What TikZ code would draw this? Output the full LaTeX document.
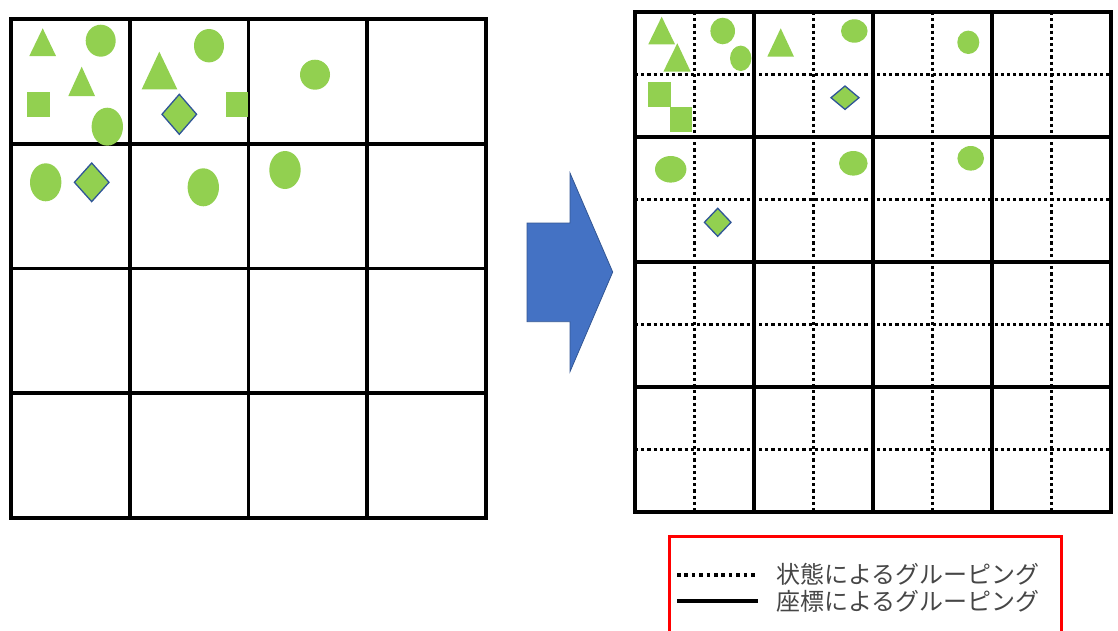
\documentclass[tikz,border=0pt]{standalone}
\usepackage{fontspec}
\newfontfamily\jpfont{Noto Sans CJK JP}
\usepackage{tikz}
\usepackage{xcolor}
\definecolor{leaf}{RGB}{146,208,80}
\definecolor{gemedge}{RGB}{47,85,151}
\definecolor{arrowblue}{RGB}{68,114,196}
\definecolor{textgray}{RGB}{70,70,70}

\begin{document}
\begin{tikzpicture}[x=1pt,y=-1pt,
  cellline/.style={black, line width=3.6pt, line cap=rect},
  dotline/.style={black, line width=3.4pt, dash pattern=on 3.2pt off 3pt},
  item/.style={fill=leaf},
  gem/.style={fill=leaf, draw=gemedge, line width=1.3pt},
  legendtext/.style={anchor=west, inner sep=0pt, text=textgray,
    font=\jpfont\fontsize{24}{24}\selectfont}]
  \clip (0,0) rectangle (1118,630);

  % Left grid: 4x4 cells
  \foreach \x in {11,129.75,248.5,367.25,486}
    \draw[cellline] (\x,19) -- (\x,518);
  \foreach \y in {19,143.75,268.5,393.25,518}
    \draw[cellline] (11,\y) -- (486,\y);

  % Right grid: dotted halves under solid cells
  \foreach \x in {694.5,813.5,932.5,1051.5}
    \draw[dotline] (\x,12) -- (\x,512);
  \foreach \y in {74.5,199.5,324.5,449.5}
    \draw[dotline] (635,\y) -- (1111,\y);
  \foreach \x in {635,754,873,992,1111}
    \draw[cellline] (\x,12) -- (\x,512);
  \foreach \y in {12,137,262,387,512}
    \draw[cellline] (635,\y) -- (1111,\y);

  % Left grid: items
  \fill[item] (42.7,28.3) -- (56,56) -- (29.3,56) -- cycle;
  \fill[item] (100.7,40.7) ellipse (15pt and 16pt);
  \fill[item] (81.7,66.7) -- (95,96) -- (68.3,96) -- cycle;
  \fill[item] (26.7,91.7) rectangle (50,116.7);
  \fill[item] (107.3,126.7) ellipse (15.7pt and 19pt);
  \fill[item] (159.3,51.7) -- (177.3,89.3) -- (141.7,89.3) -- cycle;
  \fill[item] (209,45.7) ellipse (15pt and 16.7pt);
  \filldraw[gem] (179.3,94.3) -- ++(17.3,20) -- ++(-17.3,20) -- ++(-17.3,-20) -- cycle;
  \fill[item] (225.7,91.7) rectangle (248.3,116.7);
  \fill[item] (315,74.7) circle (15pt);
  \fill[item] (45.7,182.3) ellipse (15.7pt and 19pt);
  \filldraw[gem] (91.7,163) -- ++(17.3,19.3) -- ++(-17.3,19.3) -- ++(-17.3,-19.3) -- cycle;
  \fill[item] (203.3,187.3) ellipse (15.7pt and 19pt);
  \fill[item] (285,170) ellipse (15.7pt and 19pt);

  % Right grid: items
  \fill[item] (661.7,16.7) -- (675,44.3) -- (648.3,44.3) -- cycle;
  \fill[item] (677.3,43.3) -- (690.7,71.7) -- (663.3,71.7) -- cycle;
  \fill[item] (722.7,31) ellipse (12.3pt and 13.3pt);
  \fill[item] (740.7,58.3) ellipse (10.7pt and 12.7pt);
  \fill[item] (780.7,28.3) -- (794,56.7) -- (767.3,56.7) -- cycle;
  \fill[item] (854.3,31) ellipse (13.3pt and 11.7pt);
  \fill[item] (648.3,81.7) rectangle (670.7,106.7);
  \fill[item] (670,107.3) rectangle (692.3,132.3);
  \filldraw[gem] (845,86) -- ++(14,11.7) -- ++(-14,11.7) -- ++(-14,-11.7) -- cycle;
  \fill[item] (968.3,42.3) ellipse (11pt and 11.7pt);
  \fill[item] (670.7,169.3) ellipse (15.7pt and 13.3pt);
  \fill[item] (853.3,163.3) ellipse (14.3pt and 12.3pt);
  \fill[item] (970.7,158.3) ellipse (13.3pt and 12.3pt);
  \filldraw[gem] (717.7,208.3) -- ++(13.3,14) -- ++(-13.3,14) -- ++(-13.3,-14) -- cycle;

  % Block arrow
  \filldraw[fill=arrowblue, draw=arrowblue!75!black, line width=0.8pt]
    (527,223) -- (570,223) -- (570,173) -- (612.7,272) -- (570,371.7)
    -- (570,321.7) -- (527,321.7) -- cycle;

  % Legend
  \draw[red, line width=3pt] (669.3,536.7) rectangle (1061,660);
  \draw[dotline, dash pattern=on 3.6pt off 3.8pt] (677,575) -- (758,575);
  \draw[black, line width=4pt] (677,601) -- (758,601);
  \node[legendtext] (state) at (776,574) {状態によるグルーピング};
  \node[legendtext] (coord) at (776,601) {座標によるグルーピング};
\end{tikzpicture}
\end{document}
